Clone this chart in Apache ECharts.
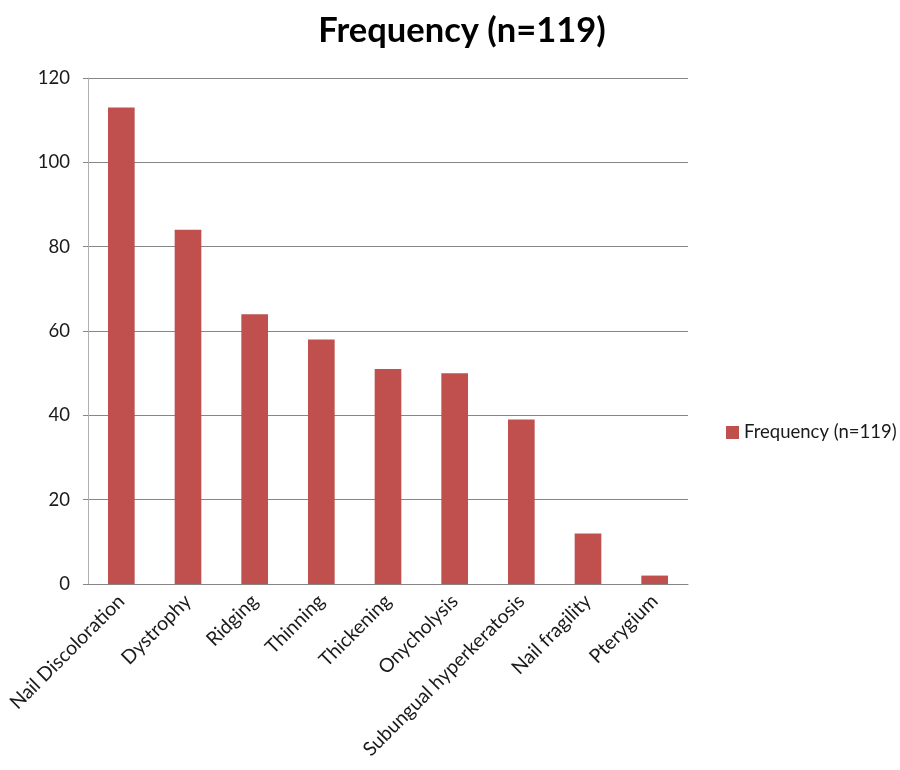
<!DOCTYPE html>
<html>
<head>
<meta charset="utf-8">
<script src="https://cdn.jsdelivr.net/npm/echarts@6/dist/echarts.min.js"></script>
<style>
  html, body { margin: 0; padding: 0; background: #ffffff; }
  #chart { width: 900px; height: 770px; }
</style>
</head>
<body>
<div id="chart"></div>
<script>
// Nail findings and how often each was seen
const categories = [
  'Nail Discoloration', 'Dystrophy', 'Ridging', 'Thinning', 'Thickening',
  'Onycholysis', 'Subungual hyperkeratosis', 'Nail fragility', 'Pterygium'
];
const frequency = [113, 84, 64, 58, 51, 50, 39, 12, 2];
const seriesName = 'Frequency (n=119)';
const yTicks = [0, 20, 40, 60, 80, 100, 120];

const FONT = 'Lato, "Open Sans", sans-serif';

const chart = echarts.init(document.getElementById('chart'), null, { renderer: 'canvas' });
chart.setOption({
  backgroundColor: '#ffffff',
  animation: false,
  title: {
    text: seriesName,
    left: 457,
    top: 8,
    textAlign: 'center',
    textStyle: { fontFamily: FONT, fontSize: 34.5, fontWeight: 'bold', color: '#000000' }
  },
  legend: {
    data: [seriesName],
    left: 721,
    top: 418,
    orient: 'vertical',
    itemWidth: 13,
    itemHeight: 13,
    itemGap: 5,
    icon: 'rect',
    textStyle: { fontFamily: FONT, fontSize: 18.5, color: '#1a1a1a' }
  },
  grid: { left: 88, right: 212, top: 78, bottom: 186, containLabel: false },
  xAxis: {
    type: 'category',
    data: categories,
    axisLine: { lineStyle: { color: '#868686', width: 1 } },
    axisTick: { show: false },
    axisLabel: {
      interval: 0,
      rotate: 45,
      margin: 14,
      fontFamily: FONT,
      fontSize: 19.5,
      color: '#1a1a1a'
    }
  },
  yAxis: {
    type: 'value',
    min: yTicks[0],
    max: yTicks[yTicks.length - 1],
    interval: 20,
    axisLine: { show: true, lineStyle: { color: '#b0b0b0', width: 1 } },
    axisTick: { show: true, length: 5, lineStyle: { color: '#868686' } },
    axisLabel: { margin: 18, fontFamily: FONT, fontSize: 18.5, color: '#1a1a1a' },
    splitLine: { show: true, lineStyle: { color: '#868686', width: 1 } }
  },
  series: [{
    name: seriesName,
    type: 'bar',
    data: frequency,
    barWidth: '40%',
    itemStyle: { color: '#C0504D' }
  }]
});
</script>
</body>
</html>
